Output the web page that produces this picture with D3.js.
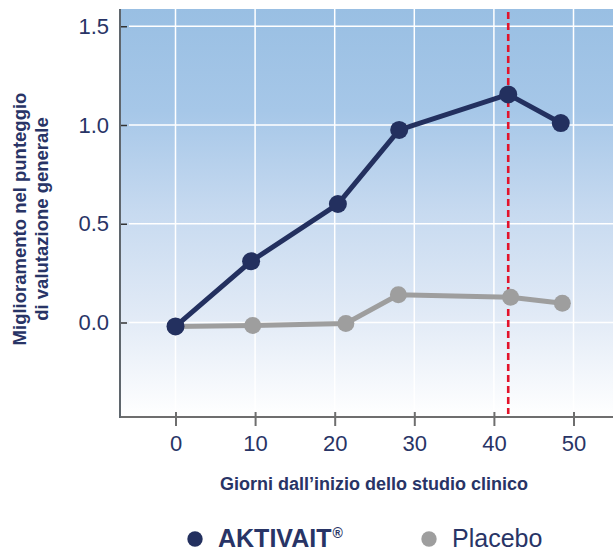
<!DOCTYPE html>
<html>
<head>
<meta charset="utf-8">
<script src="https://cdn.jsdelivr.net/npm/d3@7"></script>
<style>
  html, body { margin: 0; padding: 0; background: #fff; }
  svg { display: block; font-family: "Liberation Sans", Arial, sans-serif; }
</style>
</head>
<body>
<div id="chart"></div>
<script>
const width = 613;
const height = 552;
const marginTop = 9;
const marginRight = 0;
const marginBottom = 135;
const marginLeft = 120;

// data
const aktivaitDays = [0, 9.5, 20.4, 28.1, 41.8, 48.4];
const aktivaitValues = [-0.02, 0.31, 0.60, 0.975, 1.155, 1.01];
const placeboDays = [0, 9.7, 21.4, 28.0, 42.1, 48.6];
const placeboValues = [-0.02, -0.015, -0.005, 0.14, 0.128, 0.097];
const xTicks = [0, 10, 20, 30, 40, 50];
const yTicks = [0.0, 0.5, 1.0, 1.5];
const markerDay = 41.8;
const seriesNames = ["AKTIVAIT", "Placebo"];

const navy = "#23305f";
const grey = "#9e9e9e";
const textColor = "#283466";

// x: 0 -> 175.5, 50 -> 573.5 ; plot right edge 613
const x = d3.scaleLinear()
    .domain([0, 50])
    .range([175.5, 573.5]);

const y = d3.scaleLinear()
    .domain([0, 1])
    .range([322.5, 125]);
const plotBottom = height - marginBottom; // 417

const svg = d3.create("svg")
    .attr("width", width)
    .attr("height", height);

const defs = svg.append("defs");
const grad = defs.append("linearGradient")
    .attr("id", "bg")
    .attr("x1", 0).attr("y1", 0)
    .attr("x2", 0).attr("y2", 1);
[[0, "#99bfe3"], [0.25, "#a6c7e8"], [0.5, "#c7daf0"], [0.75, "#e1eaf6"], [1, "#ffffff"]]
    .forEach(([o, c]) => grad.append("stop").attr("offset", o).attr("stop-color", c));

svg.append("rect")
    .attr("x", marginLeft)
    .attr("y", marginTop)
    .attr("width", width - marginRight - marginLeft)
    .attr("height", plotBottom - marginTop)
    .attr("fill", "url(#bg)");

// grid
svg.append("g")
    .selectAll("line")
    .data(xTicks)
    .join("line")
    .attr("x1", d => x(d)).attr("x2", d => x(d))
    .attr("y1", marginTop).attr("y2", plotBottom)
    .attr("stroke", "#fff")
    .attr("stroke-width", 1.5);

svg.append("g")
    .selectAll("line")
    .data(yTicks)
    .join("line")
    .attr("x1", 129).attr("x2", width)
    .attr("y1", d => y(d)).attr("y2", d => y(d))
    .attr("stroke", "#fff")
    .attr("stroke-width", 1.5);

// axes
const xAxis = svg.append("g")
    .attr("transform", `translate(0,${plotBottom})`)
    .call(d3.axisBottom(x).tickValues(xTicks).tickFormat(d3.format("d")).tickSize(9).tickPadding(9));
xAxis.select(".domain").remove();
xAxis.selectAll(".tick line")
    .attr("y1", -5)
    .attr("stroke", "#6e6e6e")
    .attr("stroke-width", 2);
xAxis.selectAll(".tick text")
    .attr("fill", textColor)
    .attr("font-size", 22)
    .attr("font-family", "Liberation Sans, Arial, sans-serif");

const yAxis = svg.append("g")
    .attr("transform", `translate(${marginLeft},0)`)
    .call(d3.axisLeft(y).tickValues(yTicks).tickFormat(d3.format(".1f")).tickSize(6).tickPadding(5));
yAxis.select(".domain").remove();
yAxis.selectAll(".tick line")
    .attr("x2", 7)
    .attr("stroke", "#333")
    .attr("stroke-width", 1.5);
yAxis.selectAll(".tick text")
    .attr("fill", textColor)
    .attr("font-size", 22)
    .attr("font-family", "Liberation Sans, Arial, sans-serif");

svg.append("line")
    .attr("x1", marginLeft).attr("x2", width)
    .attr("y1", plotBottom).attr("y2", plotBottom)
    .attr("stroke", "#6e6e6e")
    .attr("stroke-width", 2);
svg.append("line")
    .attr("x1", marginLeft).attr("x2", marginLeft)
    .attr("y1", marginTop).attr("y2", plotBottom + 1)
    .attr("stroke", "#5f666d")
    .attr("stroke-width", 2);

// red marker
svg.append("line")
    .attr("x1", x(markerDay)).attr("x2", x(markerDay))
    .attr("y1", 12).attr("y2", plotBottom - 3)
    .attr("stroke", "#e3132b")
    .attr("stroke-width", 2.6)
    .attr("stroke-dasharray", "7 4");

// series
const line = d3.line()
    .x(d => x(d[0]))
    .y(d => y(d[1]));

const placebo = d3.zip(placeboDays, placeboValues);
const aktivait = d3.zip(aktivaitDays, aktivaitValues);

svg.append("path")
    .attr("d", line(placebo))
    .attr("fill", "none")
    .attr("stroke", grey)
    .attr("stroke-width", 5);
svg.append("g")
    .selectAll("circle")
    .data(placebo)
    .join("circle")
    .attr("cx", d => x(d[0]))
    .attr("cy", d => y(d[1]))
    .attr("r", 8.5)
    .attr("fill", grey);

svg.append("path")
    .attr("d", line(aktivait))
    .attr("fill", "none")
    .attr("stroke", navy)
    .attr("stroke-width", 5);
svg.append("g")
    .selectAll("circle")
    .data(aktivait)
    .join("circle")
    .attr("cx", d => x(d[0]))
    .attr("cy", d => y(d[1]))
    .attr("r", 9)
    .attr("fill", navy);

// axis titles
svg.append("text")
    .attr("x", 374)
    .attr("y", 490)
    .attr("text-anchor", "middle")
    .attr("font-size", 18)
    .attr("font-weight", "bold")
    .attr("fill", textColor)
    .text("Giorni dall\u2019inizio dello studio clinico");

const yTitle = svg.append("text")
    .attr("transform", "translate(25.5,219) rotate(-90)")
    .attr("text-anchor", "middle")
    .attr("font-size", 18.5)
    .attr("font-weight", "bold")
    .attr("fill", textColor);
yTitle.append("tspan").attr("x", 0).attr("y", 0).text("Miglioramento nel punteggio");
yTitle.append("tspan").attr("x", 0).attr("y", 22.5).text("di valutazione generale");

// legend
const legend = svg.append("g");
const legendItems = [
    {name: seriesNames[0], color: navy, cx: 195, tx: 218, bold: true},
    {name: seriesNames[1], color: grey, cx: 429, tx: 452, bold: false}
];
legendItems.forEach(d => {
    legend.append("circle")
        .attr("cx", d.cx).attr("cy", 539)
        .attr("r", 7.7)
        .attr("fill", d.color);
    const t = legend.append("text")
        .attr("x", d.tx).attr("y", 546.5)
        .attr("font-size", 25)
        .attr("font-weight", d.bold ? "bold" : "normal")
        .attr("fill", textColor)
        .text(d.name);
    if (d.bold) {
        t.append("tspan")
            .attr("dy", -9)
            .attr("dx", 1)
            .attr("font-size", 14)
            .text("\u00ae");
    }
});

d3.select("#chart").append(() => svg.node());
</script>
</body>
</html>
